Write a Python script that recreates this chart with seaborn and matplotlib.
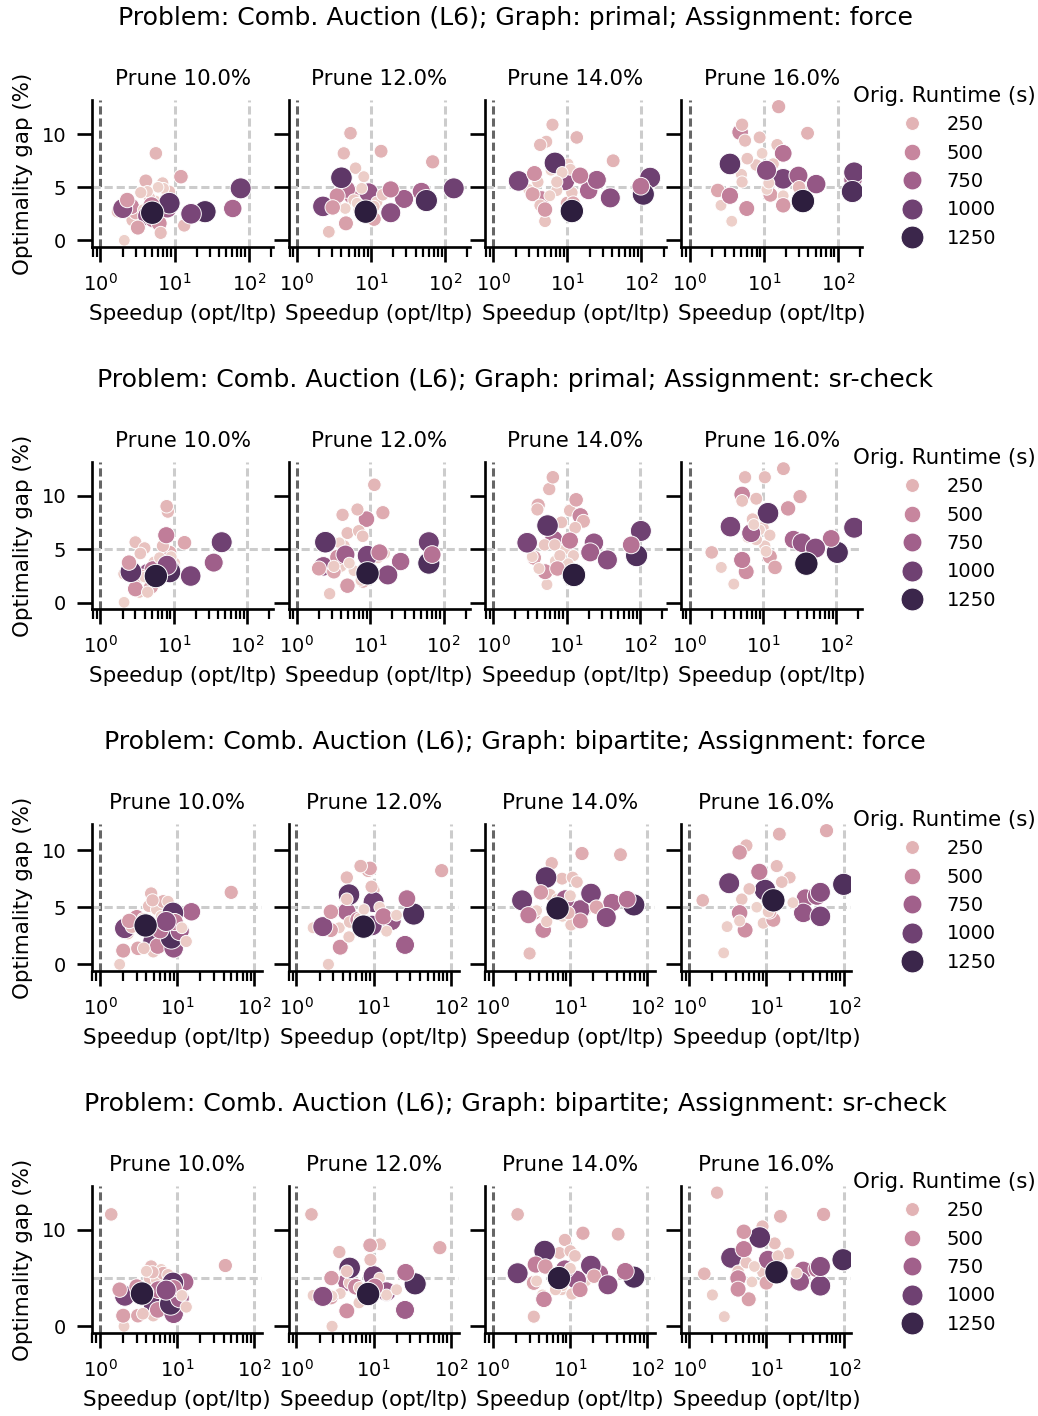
import matplotlib.pyplot as plt
import numpy as np
import pandas as pd
import seaborn as sns

# original runtime of each instance (s), shared by every facet
runtime = [1320, 1150, 1080, 1000, 950, 880, 820, 760, 700, 620, 560, 500, 440, 390, 350, 310, 280,
           250, 225, 205, 190, 175, 160, 150, 140, 130, 120, 110, 100, 95, 90, 85, 80, 75]

# graph: primal, assignment: force
spd_pf_10 = [5.0, 25.8, 8.5, 78, 16.7, 2.0, 4.3, 8.0, 61, 5.2, 4.9, 2.6, 6.2, 2.3, 3.2, 12.2, 3.0,
             4.1, 5.6, 13.5, 6.5, 2.7, 8.5, 1.7, 6.9, 4.6, 3.5, 7.5, 4.3, 5.5, 7.1, 2.1, 3.8, 6.0]
gap_pf_10 = [2.6, 2.7, 3.5, 4.9, 2.5, 3.0, 2.3, 3.0, 3.0, 2.0, 3.3, 3.2, 1.6, 3.8, 1.2, 6.0, 2.6,
             5.6, 8.2, 1.4, 0.7, 1.9, 4.6, 2.7, 5.4, 4.0, 4.5, 3.9, 4.6, 3.7, 4.9, 0.0, 2.9, 5.0]
spd_pf_12 = [8.5, 56, 4.0, 131, 2.25, 18.5, 9.3, 28, 48, 4.7, 18.5, 5.5, 3.5, 3.05, 4.6, 11, 68,
             13.7, 5.3, 4.3, 10, 7, 2.7, 14.4, 6.2, 5.9, 11, 12, 8, 3.4, 7.5, 4.5, 9.5, 6.5]
gap_pf_12 = [2.7, 3.75, 5.9, 4.9, 3.2, 2.6, 4.5, 3.9, 4.6, 4.8, 4.8, 4.2, 4.2, 3.1, 1.6, 2.0, 7.4,
             8.4, 10.1, 8.2, 2.1, 2.9, 0.8, 4.3, 6.8, 3.8, 3.2, 3.6, 6.0, 3.2, 4.9, 3.0, 4.0, 3.5]
spd_pf_14 = [11.5, 106, 6.8, 131, 2.2, 38, 9.3, 25, 19.4, 98, 14.9, 4.5, 3.6, 5.0, 3.4, 12, 10,
             41.5, 13.4, 4.3, 6.3, 5.2, 5.0, 4.3, 11.5, 4.0, 7.2, 7.2, 11, 10.2, 5.8, 8.5, 3.0, 6.0]
gap_pf_14 = [2.76, 4.35, 7.3, 5.9, 5.6, 4.0, 5.6, 5.7, 4.7, 5.1, 6.1, 3.9, 6.3, 2.9, 4.35, 3.5, 3.5,
             7.5, 9.7, 9.0, 10.9, 9.3, 1.8, 3.3, 4.5, 5.5, 5.5, 4.7, 6.7, 7.2, 4.2, 6.4, 4.8, 6.6]
spd_pf_16 = [33.8, 157, 3.5, 166, 18.3, 10.9, 51, 29.4, 160, 18.3, 3.5, 4.8, 5.9, 18.3, 12.3, 2.4, 15.9,
             39, 30, 5.1, 5.6, 8.8, 15.2, 6.0, 7.9, 13.4, 5.1, 5.0, 11.7, 2.65, 3.7, 18.3, 9.5, 11.0]
gap_pf_16 = [3.7, 4.6, 7.2, 6.4, 5.8, 6.6, 5.3, 6.1, 5.7, 8.2, 4.2, 10.2, 3.0, 3.3, 4.3, 4.7, 12.6,
             10.1, 5.0, 10.9, 9.4, 9.7, 9.0, 7.7, 7.1, 7.2, 5.5, 6.2, 5.4, 3.3, 1.8, 4.2, 8.2, 4.8]

# graph: primal, assignment: sr-check
spd_ps_10 = [5.7, 8.8, 2.6, 45, 17, 8.1, 4.5, 35, 6.5, 5.2, 7.9, 9.5, 3.0, 2.45, 4.9, 14, 8.8,
             3.6, 8.0, 8.3, 7.1, 3.0, 4.0, 3.5, 2.1, 3.4, 4.4, 5.4, 6.4, 10.3, 9.2, 2.1, 2.7, 4.0]
gap_ps_10 = [2.5, 2.9, 2.9, 5.65, 2.5, 3.5, 2.8, 3.75, 2.7, 3.1, 6.3, 3.2, 1.3, 3.75, 1.5, 5.6, 4.7,
             2.5, 9.0, 8.5, 5.3, 5.65, 5.1, 4.6, 2.7, 1.0, 1.0, 3.8, 4.2, 3.7, 4.3, 0.05, 3.4, 2.4]
spd_ps_12 = [9.2, 63, 2.45, 63, 9.2, 17.4, 2.3, 4.6, 26, 70, 13.4, 8.9, 3.6, 4.9, 2.0, 3.2, 14.9,
             8.0, 11.4, 4.2, 6.7, 4.9, 7.0, 7.9, 4.4, 2.8, 3.2, 4.0, 7.5, 12.7, 15.7, 5.2, 6.0, 3.8]
gap_ps_12 = [2.75, 3.7, 5.65, 5.65, 4.4, 2.6, 3.4, 4.5, 3.85, 4.5, 4.7, 7.8, 4.25, 1.6, 3.2, 2.9, 8.4,
             2.0, 11.0, 8.2, 8.7, 6.5, 6.7, 6.2, 5.3, 0.85, 3.4, 3.4, 2.1, 4.2, 4.6, 3.7, 3.0, 5.6]
spd_ps_14 = [12.6, 90, 5.5, 103, 2.9, 36, 23.6, 21, 6.7, 76, 11.1, 15.4, 5.1, 7.5, 3.6, 13.5, 4.1,
             17, 6.5, 5.8, 4.0, 11.1, 8.5, 13.1, 5.0, 6.9, 8.1, 12.4, 4.2, 5.4, 3.4, 10.5, 9.5, 7.0]
gap_ps_14 = [2.6, 4.4, 7.2, 6.7, 5.6, 4.0, 5.6, 4.7, 5.9, 5.4, 5.8, 8.1, 2.9, 3.2, 4.2, 9.6, 9.1,
             7.6, 11.7, 10.6, 8.7, 8.6, 7.5, 7.0, 5.4, 5.4, 4.4, 4.4, 3.2, 1.7, 4.3, 3.65, 5.0, 3.9]
spd_ps_16 = [39, 103, 11.7, 175, 3.6, 52, 34, 6.9, 26, 85, 5.2, 5.2, 5.9, 22, 12.4, 14.6, 32,
             19, 2.0, 5.7, 10.6, 8.1, 5.2, 7.2, 10, 8.1, 12.4, 10.6, 2.7, 4.0, 11.0, 7.5, 6.2, 9.0]
gap_ps_16 = [3.65, 4.7, 8.35, 7.0, 7.1, 5.1, 5.6, 6.5, 5.9, 6.0, 4.0, 10.1, 2.9, 8.8, 4.3, 3.3, 9.9,
             12.5, 4.7, 11.7, 11.7, 9.7, 9.5, 7.8, 7.0, 5.9, 6.3, 5.3, 3.3, 1.75, 4.8, 7.3, 6.1, 6.8]

# graph: bipartite, assignment: force
spd_bf_10 = [3.9, 8.4, 8.8, 4.9, 2.1, 7.2, 9.0, 10.8, 15.3, 6.0, 9.3, 5.6, 3.0, 2.4, 2.0, 3.1, 50,
             6.6, 2.6, 4.6, 4.8, 4.3, 2.3, 3.7, 4.9, 7.6, 13.1, 5.4, 3.6, 1.8, 6.2, 11.5, 7.0, 4.2]
gap_bf_10 = [3.4, 2.3, 4.5, 2.0, 3.15, 3.75, 1.4, 2.9, 4.6, 3.0, 3.7, 1.6, 4.1, 3.8, 1.2, 1.4, 6.3,
             5.5, 3.3, 6.2, 5.6, 5.1, 2.7, 1.4, 1.1, 5.5, 2.0, 4.8, 4.0, 0.0, 4.2, 3.2, 2.6, 3.6]
spd_bf_12 = [7.4, 33, 4.8, 10, 9.5, 2.2, 17, 25.5, 4.5, 27, 13.4, 6.3, 3.7, 2.8, 2.8, 9.0, 76,
             8.5, 6.8, 4.5, 9.4, 10, 5.4, 4.5, 4.9, 6.6, 4.8, 2.6, 1.65, 3.6, 14.7, 19.8, 12, 7.5]
gap_bf_12 = [3.3, 4.4, 6.1, 5.45, 3.4, 3.3, 3.8, 1.7, 4.6, 5.75, 4.2, 3.9, 1.5, 4.6, 3.0, 8.4, 8.2,
             8.2, 8.6, 7.6, 6.8, 6.5, 5.8, 5.7, 3.7, 4.0, 2.4, 0.0, 3.2, 3.2, 2.9, 4.3, 5.0, 4.8]
spd_bf_14 = [6.9, 67, 4.9, 2.4, 18.7, 29.5, 13.6, 8.7, 35, 55, 2.9, 4.5, 13.6, 4.2, 3.4, 22, 14.3,
             45, 9.5, 5.8, 3.0, 7.9, 10.8, 12.3, 5.5, 10.3, 5.0, 6.9, 10.1, 4.8, 3.7, 8.0, 16, 6.0]
gap_bf_14 = [4.9, 5.2, 7.6, 5.6, 6.2, 4.1, 4.8, 5.7, 5.4, 5.7, 4.3, 3.0, 3.8, 6.3, 4.5, 5.0, 9.7,
             9.6, 4.5, 8.85, 0.95, 7.5, 7.6, 7.2, 6.1, 3.45, 3.75, 5.7, 6.0, 3.2, 4.7, 4.2, 4.7, 5.2]
spd_bf_16 = [12.3, 100, 9.6, 3.3, 50, 50, 30, 45, 32, 10.5, 8.1, 4.5, 5.3, 4.5, 12.3, 11, 60,
             14.7, 1.5, 5.5, 13.6, 20, 15.8, 6.0, 4.8, 10, 10.6, 9.1, 4.5, 3.1, 2.8, 22, 11.7, 7.5]
gap_bf_16 = [5.6, 7.0, 6.5, 7.1, 4.2, 6.3, 4.5, 6.0, 5.8, 6.2, 8.1, 4.5, 3.0, 9.8, 3.9, 4.6, 11.7,
             11.4, 5.6, 10.4, 8.6, 7.6, 7.2, 6.6, 5.7, 5.7, 4.6, 3.6, 3.8, 3.3, 1.0, 5.4, 5.2, 5.0]

# graph: bipartite, assignment: sr-check
spd_bs_10 = [3.5, 8.2, 8.8, 5.0, 2.1, 7.2, 9.0, 10.8, 12.5, 5.7, 9.0, 5.6, 3.0, 1.8, 2.0, 3.1, 42,
             6.6, 1.4, 4.6, 4.8, 4.4, 2.2, 3.6, 4.9, 7.6, 13.1, 5.4, 4.0, 2.05, 6.2, 11.5, 7.0, 4.2]
gap_bs_10 = [3.4, 2.3, 4.5, 2.0, 3.15, 3.75, 1.3, 2.9, 4.6, 3.8, 3.95, 1.7, 4.1, 3.8, 1.1, 1.1, 6.3,
             5.5, 11.6, 6.2, 5.6, 5.0, 2.7, 1.3, 1.1, 5.35, 2.0, 4.8, 5.7, 0.0, 5.9, 3.2, 2.6, 3.6]
spd_bs_12 = [8.5, 34.5, 4.9, 10, 9.2, 2.2, 14.7, 25.5, 4.5, 26, 10.4, 5.9, 4.5, 2.85, 2.8, 9.0, 72,
             9.1, 1.57, 3.6, 9.1, 12.1, 5.4, 4.5, 4.9, 6.6, 6.5, 2.9, 1.65, 3.7, 14.7, 19.9, 12, 2.9]
gap_bs_12 = [3.35, 4.4, 6.05, 5.2, 3.6, 3.1, 3.6, 1.7, 4.6, 5.6, 4.1, 4.1, 1.6, 5.0, 3.0, 8.4, 8.15,
             8.3, 11.6, 7.7, 6.9, 8.5, 5.8, 5.7, 4.5, 4.0, 2.45, 0.0, 3.2, 3.4, 3.25, 3.8, 5.0, 3.15]
spd_bs_14 = [7.2, 67, 4.7, 2.1, 18.6, 31, 12.2, 8.6, 24, 52, 3.6, 4.6, 13.5, 4.8, 3.4, 20.5, 14.7,
             42, 2.1, 8.6, 3.4, 7.3, 10.1, 11.6, 5.0, 10.6, 6.5, 7.8, 10.1, 4.4, 3.7, 8.0, 16, 6.0]
gap_bs_14 = [5.0, 5.1, 7.8, 5.5, 6.3, 4.3, 4.8, 5.9, 5.45, 5.7, 6.4, 2.8, 3.8, 6.2, 4.5, 5.2, 9.65,
             9.55, 11.6, 8.95, 1.0, 7.6, 7.8, 7.3, 6.05, 3.35, 3.8, 3.8, 6.0, 3.25, 4.7, 4.2, 4.7, 5.2]
spd_bs_16 = [13.5, 98, 8.2, 3.5, 50, 50, 27, 10.5, 30, 45, 5.1, 4.3, 4.3, 5.1, 5.9, 10, 55,
             15.2, 1.57, 2.3, 8.9, 12.8, 19.2, 5.5, 4.3, 9.0, 14.2, 2.0, 2.85, 12.2, 24.5, 7.0, 6.5, 11]
gap_bs_16 = [5.6, 6.9, 9.2, 7.1, 4.2, 6.2, 4.65, 6.9, 5.8, 5.95, 8.0, 5.0, 3.85, 9.8, 2.8, 4.5, 11.6,
             11.4, 5.45, 13.85, 10.35, 8.6, 7.55, 6.6, 5.7, 5.6, 7.3, 3.25, 1.0, 6.75, 5.5, 6.2, 4.6, 4.9]

graphs = ['primal', 'primal', 'bipartite', 'bipartite']
assigns = ['force', 'sr-check', 'force', 'sr-check']
prunes = [10.0, 12.0, 14.0, 16.0]

speedups = [[spd_pf_10, spd_pf_12, spd_pf_14, spd_pf_16],
            [spd_ps_10, spd_ps_12, spd_ps_14, spd_ps_16],
            [spd_bf_10, spd_bf_12, spd_bf_14, spd_bf_16],
            [spd_bs_10, spd_bs_12, spd_bs_14, spd_bs_16]]
gaps = [[gap_pf_10, gap_pf_12, gap_pf_14, gap_pf_16],
        [gap_ps_10, gap_ps_12, gap_ps_14, gap_ps_16],
        [gap_bf_10, gap_bf_12, gap_bf_14, gap_bf_16],
        [gap_bs_10, gap_bs_12, gap_bs_14, gap_bs_16]]

frames = []
for r in range(4):
    for c in range(4):
        frames.append(pd.DataFrame({'graph': graphs[r], 'assignment': assigns[r], 'prune': prunes[c],
                                    'Speedup (opt/ltp)': speedups[r][c],
                                    'Optimality gap (%)': gaps[r][c],
                                    'Orig. Runtime (s)': runtime}))
df = pd.concat(frames, ignore_index=True)

# instances are not stored sorted by runtime; mix the drawing order (longest run drawn last)
n_inst = len(runtime)
draw_order = [(i * 13) % n_inst for i in range(n_inst)][::-1]

sns.set_theme(context='poster', style='ticks')
plt.rcParams.update({
    'text.color': 'black', 'axes.labelcolor': 'black', 'axes.edgecolor': 'black',
    'xtick.color': 'black', 'ytick.color': 'black',
    'axes.linewidth': 3,
    'xtick.major.size': 17, 'ytick.major.size': 17,
    'xtick.major.width': 3, 'ytick.major.width': 3,
    'xtick.minor.size': 11, 'xtick.minor.width': 2.5,
    'xtick.major.pad': 12, 'ytick.major.pad': 12, 'xtick.minor.pad': 12,
})

DPI = 64
W, H = 1038, 1416
fig = plt.figure(figsize=(W / DPI, H / DPI), dpi=DPI)

# each row block was laid out on its own, so rows 3-4 have slightly narrower panels
row_width = [181, 181, 170, 170]
dash = dict(ls=(0, (2.7, 1.3)), lw=3.4, zorder=0)


def rect(x, y, w, h):
    return [x / W, 1 - (y + h) / H, w / W, h / H]


for r in range(4):
    top = 100 + 362 * r
    first = None
    for c in range(4):
        ax = fig.add_axes(rect(92.2 + 196.4 * c, top, row_width[r], 147), sharex=first, sharey=first)
        if first is None:
            first = ax
            ax.set_xscale('log')
        sub = df[(df['graph'] == graphs[r]) & (df['assignment'] == assigns[r]) & (df['prune'] == prunes[c])]
        sub = sub.iloc[draw_order]

        ax.axvline(1, color='0.4', **dash)
        ax.axvline(10, color='0.8', **dash)
        ax.axvline(100, color='0.8', **dash)
        ax.axhline(5, color='0.8', **dash)

        sns.scatterplot(data=sub, x='Speedup (opt/ltp)', y='Optimality gap (%)',
                        hue='Orig. Runtime (s)', size='Orig. Runtime (s)', sizes=(170, 690),
                        legend='brief' if c == 3 else False, ax=ax)
        sns.despine(ax=ax)
        ax.set_title(f'Prune {prunes[c]}%', pad=17)
        ax.set_xlabel('Speedup (opt/ltp)', labelpad=10)
        if c == 0:
            ax.set_ylabel('Optimality gap (%)', labelpad=10)
        else:
            ax.set_ylabel('')
            ax.tick_params(labelleft=False)
        if c == 3:
            sns.move_legend(ax, loc='upper left', bbox_to_anchor=(845 / W, 1 - (78 + 362 * r) / H),
                            bbox_transform=fig.transFigure, frameon=False, borderaxespad=0,
                            labelspacing=0.48)

    fig.text(515 / W, 1 - (25 + 362 * r) / H,
             f'Problem: Comb. Auction (L6); Graph: {graphs[r]}; Assignment: {assigns[r]}',
             ha='center', va='baseline', fontsize=28.3)

fig.savefig('out.png', dpi=DPI)
